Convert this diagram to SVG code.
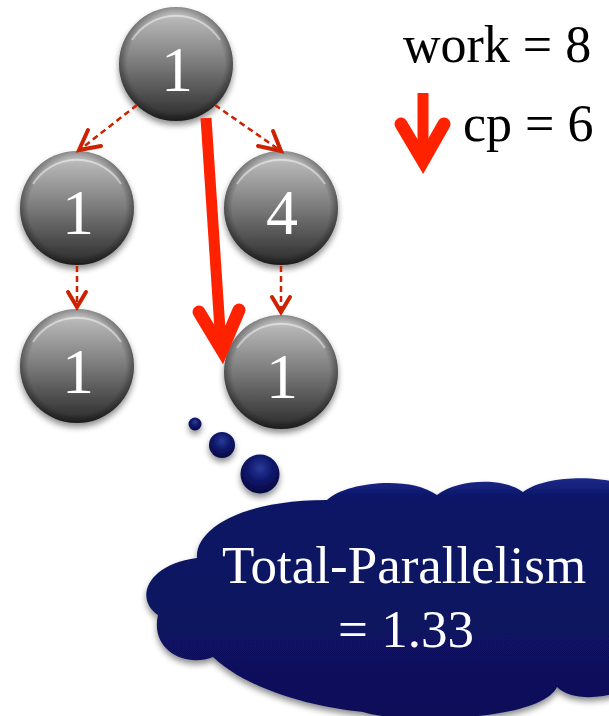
<svg xmlns="http://www.w3.org/2000/svg" width="609" height="716" viewBox="0 0 609 716">
<defs>
  <linearGradient id="ballG" x1="0" y1="0" x2="0" y2="1">
    <stop offset="0" stop-color="#d4d4d4"/>
    <stop offset="0.12" stop-color="#b4b4b4"/>
    <stop offset="0.5" stop-color="#7a7a7a"/>
    <stop offset="1" stop-color="#2a2a2a"/>
  </linearGradient>
  <radialGradient id="rimG" cx="0.5" cy="0.5" r="0.5">
    <stop offset="0.85" stop-color="#000" stop-opacity="0"/>
    <stop offset="1" stop-color="#000" stop-opacity="0.35"/>
  </radialGradient>
  <linearGradient id="navyG" x1="0" y1="0" x2="0" y2="1">
    <stop offset="0" stop-color="#1c2a8a"/>
    <stop offset="0.08" stop-color="#0b1566"/>
    <stop offset="1" stop-color="#08105a"/>
  </linearGradient>
  <radialGradient id="bubG" cx="0.5" cy="0.35" r="0.6">
    <stop offset="0" stop-color="#2a3a9a"/>
    <stop offset="0.6" stop-color="#0b1566"/>
    <stop offset="1" stop-color="#060c48"/>
  </radialGradient>
  <filter id="sh" x="-20%" y="-20%" width="140%" height="150%">
    <feGaussianBlur in="SourceAlpha" stdDeviation="3"/>
    <feOffset dx="0" dy="4" result="b"/>
    <feComponentTransfer><feFuncA type="linear" slope="0.45"/></feComponentTransfer>
    <feMerge><feMergeNode/><feMergeNode in="SourceGraphic"/></feMerge>
  </filter>
  <style>
    .ball{fill:url(#ballG);}
    .rim{fill:url(#rimG);}
    .hl{fill:none;stroke:#ffffff;stroke-opacity:0.45;stroke-width:2;}
    .num{font-family:"Liberation Serif","Times New Roman",serif;font-size:64px;fill:#ffffff;text-anchor:middle;}
    .lbl{font-family:"Liberation Serif","Times New Roman",serif;font-size:52px;fill:#000000;}
    .ctext{font-family:"Liberation Serif","Times New Roman",serif;font-size:53px;fill:#ffffff;text-anchor:middle;}
    .dash{fill:none;stroke:#cc2200;stroke-width:2.5;stroke-dasharray:6 4;}
    .dhead{fill:none;stroke:#cc2200;stroke-width:4;stroke-linecap:round;stroke-linejoin:miter;}
    .big{fill:none;stroke:#ff2200;stroke-width:11;}
    .bighead{fill:none;stroke:#ff2200;stroke-width:13;stroke-linecap:round;stroke-linejoin:miter;stroke-miterlimit:10;}
  </style>
</defs>

<!-- cloud and bubbles -->
<g id="cloud" filter="url(#sh)">
  <circle cx="195" cy="424" r="6.5" fill="url(#bubG)"/>
  <circle cx="222" cy="445" r="13" fill="url(#bubG)"/>
  <circle cx="260" cy="474" r="19.5" fill="url(#bubG)"/>
  <path d="M 213 657 C 185 668, 150 650, 158 615 C 135 600, 145 565, 197 558 C 195 530, 240 500, 327 500 C 345 482, 410 475, 437 495 C 460 478, 505 478, 523 492 C 545 475, 600 475, 625 485 L 625 690 C 600 700, 570 700, 557 687 C 540 722, 400 724, 363 712 C 320 708, 250 692, 213 657 Z" fill="url(#navyG)"/>
  <text class="ctext" x="404" y="583">Total-Parallelism</text>
  <text class="ctext" x="406" y="647">= 1.33</text>
</g>

<!-- nodes -->
<g id="n1" filter="url(#sh)">
  <circle class="ball" cx="176" cy="64" r="57"/>
  <circle class="rim" cx="176" cy="64" r="57"/>
  <path class="hl" d="M 132 40 A 52 52 0 0 1 220 40"/>
  <text class="num" x="177" y="91">1</text>
</g>
<g id="n2" filter="url(#sh)">
  <circle class="ball" cx="77" cy="208" r="57"/>
  <circle class="rim" cx="77" cy="208" r="57"/>
  <path class="hl" d="M 33 184 A 52 52 0 0 1 121 184"/>
  <text class="num" x="78" y="234">1</text>
</g>
<g id="n3" filter="url(#sh)">
  <circle class="ball" cx="281" cy="208" r="57"/>
  <circle class="rim" cx="281" cy="208" r="57"/>
  <path class="hl" d="M 237 184 A 52 52 0 0 1 325 184"/>
  <text class="num" x="282" y="234">4</text>
</g>
<g id="n4" filter="url(#sh)">
  <circle class="ball" cx="77" cy="366" r="57"/>
  <circle class="rim" cx="77" cy="366" r="57"/>
  <path class="hl" d="M 33 342 A 52 52 0 0 1 121 342"/>
  <text class="num" x="78" y="393">1</text>
</g>
<g id="n5" filter="url(#sh)">
  <circle class="ball" cx="281" cy="372" r="57"/>
  <circle class="rim" cx="281" cy="372" r="57"/>
  <path class="hl" d="M 237 348 A 52 52 0 0 1 325 348"/>
  <text class="num" x="282" y="398">1</text>
</g>

<!-- connectors -->
<g id="connectors">
  <line class="dash" x1="137" y1="105" x2="82" y2="148"/>
  <polyline class="dhead" points="88,130 79,150 101,146"/>
  <line class="dash" x1="215" y1="105" x2="278" y2="149"/>
  <polyline class="dhead" points="258,146 281,151 273,131"/>
  <line class="dash" x1="77" y1="266" x2="77" y2="305"/>
  <polyline class="dhead" points="68,292 77,307 86,292"/>
  <line class="dash" x1="281" y1="266" x2="281" y2="311"/>
  <polyline class="dhead" points="272,297 281,312 290,297"/>
  <line class="big" x1="206" y1="118" x2="221" y2="345"/>
  <polyline class="bighead" points="199,312 222,350 239,310"/>
</g>

<!-- legend -->
<g id="legend">
  <text class="lbl" x="403" y="62">work = 8</text>
  <line class="big" x1="423" y1="93" x2="423" y2="158"/>
  <polyline class="bighead" points="401,124 423,161 444,124"/>
  <text class="lbl" x="463" y="141">cp = 6</text>
</g>
</svg>
